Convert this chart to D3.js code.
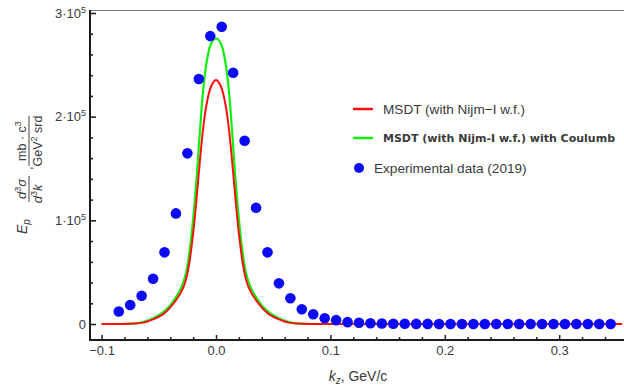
<!DOCTYPE html>
<html>
<head>
<meta charset="utf-8">
<script src="https://cdn.jsdelivr.net/npm/d3@7"></script>
<style>
  body { margin: 0; background: #fff; }
  svg { display: block; }
  text { font-family: "Liberation Sans", Arial, sans-serif; fill: #3a3a3a; }
</style>
</head>
<body>
<svg id="chart" width="624" height="387"></svg>
<script>
// experimental points (kz in GeV/c, cross section)
const kExp = [-0.085, -0.075, -0.065, -0.055, -0.045, -0.035, -0.025, -0.015, -0.005, 0.005,
  0.015, 0.025, 0.035, 0.045, 0.055, 0.065, 0.075, 0.085, 0.095, 0.105,
  0.115, 0.125, 0.135, 0.145, 0.155, 0.165, 0.175, 0.185, 0.195, 0.205,
  0.215, 0.225, 0.235, 0.245, 0.255, 0.265, 0.275, 0.285, 0.295, 0.305,
  0.315, 0.325, 0.335, 0.345];
const sigmaExp = [12000, 18300, 27300, 43700, 69100, 106700, 164600, 236300, 277700, 286700,
  242300, 176800, 112200, 69100, 39200, 24800, 14300, 9400, 5500, 3700,
  1800, 1200, 700, 500, 300, 200, 100, 100, 0, 0,
  0, 0, 0, 0, 0, 0, 0, 0, 0, 0,
  0, 0, 0, 0];

// theory curves, sampled on the same kz grid
const kCurve = [-0.1, -0.09, -0.08, -0.07, -0.065, -0.06, -0.055, -0.05, -0.045, -0.04,
  -0.035, -0.03, -0.027, -0.025, -0.023, -0.021, -0.019, -0.017, -0.015, -0.013,
  -0.011, -0.009, -0.007, -0.005, -0.003, 0,
  0.003, 0.005, 0.007, 0.009, 0.011, 0.013, 0.015, 0.017, 0.019, 0.021,
  0.023, 0.025, 0.027, 0.03, 0.035, 0.04, 0.045, 0.05, 0.055, 0.06,
  0.065, 0.07, 0.08, 0.09, 0.1, 0.15, 0.2, 0.25, 0.3, 0.355];
const msdt = [0, 0, 60, 500, 1100, 2400, 4500, 7000, 10500, 16000,
  23000, 32000, 40000, 49000, 61000, 78000, 97000, 121000, 146000, 170000,
  191000, 207000, 219000, 227000, 232000, 235300,
  232000, 227000, 219000, 207000, 191000, 170000, 146000, 121000, 97000, 78000,
  61000, 49000, 40000, 32000, 23000, 16000, 10500, 7000, 4500, 2400,
  1100, 500, 60, 0, 0, 0, 0, 0, 0, 0];
const msdtCoulomb = [0, 0, 150, 700, 1500, 3000, 5500, 8500, 12500, 18000,
  26000, 36000, 46000, 56000, 71000, 90000, 113000, 140000, 171000, 202000,
  228000, 247000, 260000, 268500, 273000, 275500,
  273000, 268500, 260000, 247000, 228000, 202000, 171000, 140000, 113000, 90000,
  71000, 56000, 46000, 36000, 26000, 18000, 12500, 8500, 5500, 3000,
  1500, 700, 150, 0, 0, 0, 0, 0, 0, 0];

const xTicks = [-0.1, 0, 0.1, 0.2, 0.3];
const xTickLabels = ['\u22120.1', '0.0', '0.1', '0.2', '0.3'];
const yTicks = [0, 1e5, 2e5, 3e5];
const yTickLabels = [['0', null], ['1\u00b710', '5'], ['2\u00b710', '5'], ['3\u00b710', '5']];

const legendItems = [
  { label: 'MSDT (with Nijm\u2212I w.f.)', color: '#ff1010', type: 'line', bold: false },
  { label: 'MSDT (with Nijm-I w.f.) with Coulumb', color: '#10f010', type: 'line', bold: true },
  { label: 'Experimental data (2019)', color: '#0a0af5', type: 'dot', bold: false }
];

const MARGINS = { top: 10, bottom: 47, left: 90, right: 0 };
const svg = d3.select('#chart');
const width = +svg.attr('width');
const height = +svg.attr('height');
const plotBottom = height - MARGINS.bottom;

const x = d3.scaleLinear().domain([-0.11014, 0.35664]).range([MARGINS.left, width - MARGINS.right]);
const y = d3.scaleLinear().domain([-15430, 302900]).range([plotBottom, MARGINS.top]);

// frame: top thin line, left and bottom axes
svg.append('line')
  .attr('x1', MARGINS.left).attr('x2', width)
  .attr('y1', MARGINS.top + 0.5).attr('y2', MARGINS.top + 0.5)
  .attr('stroke', '#777').attr('stroke-width', 1);

// minor ticks
const xMinor = d3.range(-0.1, 0.341, 0.02).map(v => +v.toFixed(2))
  .filter(v => !xTicks.some(t => Math.abs(t - v) < 1e-9));
const yMinor = d3.range(0, 300001, 20000).filter(v => v % 100000 !== 0);

const gx = svg.append('g').attr('transform', `translate(0,${plotBottom})`);
gx.append('g').call(d3.axisBottom(x).tickValues(xMinor).tickSize(-3).tickSizeOuter(0).tickFormat(''));
gx.append('g').call(d3.axisBottom(x).tickValues(xTicks).tickSize(-5).tickSizeOuter(0).tickPadding(6)
  .tickFormat((d, i) => xTickLabels[i]));
gx.selectAll('.domain').remove();
gx.selectAll('line').attr('stroke', '#222').attr('stroke-width', 1.5);
gx.selectAll('text').attr('font-size', 13).attr('fill', '#3a3a3a')
  .style('font-family', '"Liberation Sans", Arial, sans-serif');

const gy = svg.append('g').attr('transform', `translate(${MARGINS.left},0)`);
gy.append('g').call(d3.axisLeft(y).tickValues(yMinor).tickSize(-3).tickSizeOuter(0).tickFormat(''));
const gyMajor = gy.append('g').call(d3.axisLeft(y).tickValues(yTicks).tickSize(-6).tickSizeOuter(0).tickPadding(4)
  .tickFormat(''));
gy.selectAll('.domain').remove();
gy.selectAll('line').attr('stroke', '#222').attr('stroke-width', 1.6);
gyMajor.selectAll('.tick text').each(function (d, i) {
  const t = d3.select(this)
    .attr('font-size', 13).attr('fill', '#3a3a3a')
    .style('font-family', '"Liberation Sans", Arial, sans-serif');
  const [base, sup] = yTickLabels[i];
  t.append('tspan').text(base);
  if (sup) t.append('tspan').attr('font-size', 9).attr('dy', '-0.55em').text(sup);
});

svg.append('line')
  .attr('x1', MARGINS.left).attr('x2', MARGINS.left)
  .attr('y1', MARGINS.top).attr('y2', plotBottom + 1)
  .attr('stroke', '#1a1a1a').attr('stroke-width', 2);
svg.append('line')
  .attr('x1', MARGINS.left - 1).attr('x2', width)
  .attr('y1', plotBottom).attr('y2', plotBottom)
  .attr('stroke', '#1a1a1a').attr('stroke-width', 2);

// curves
const line = d3.line().x(d => x(d[0])).y(d => y(d[1])).curve(d3.curveMonotoneX);
svg.append('path')
  .datum(kCurve.map((k, i) => [k, msdtCoulomb[i]]))
  .attr('d', line).attr('fill', 'none')
  .attr('stroke', legendItems[1].color).attr('stroke-width', 2.2);
svg.append('path')
  .datum(kCurve.map((k, i) => [k, msdt[i]]))
  .attr('d', line).attr('fill', 'none')
  .attr('stroke', legendItems[0].color).attr('stroke-width', 2);

// experimental points
svg.append('g').selectAll('circle')
  .data(kExp.map((k, i) => [k, sigmaExp[i]]))
  .join('circle')
  .attr('cx', d => x(d[0]))
  .attr('cy', d => y(d[1]))
  .attr('r', 5.3)
  .attr('fill', legendItems[2].color);

// legend
const legend = svg.append('g');
const legendY = [109, 138, 168];
legendItems.forEach((item, i) => {
  const g = legend.append('g').attr('transform', `translate(0,${legendY[i]})`);
  if (item.type === 'line') {
    g.append('line').attr('x1', 353).attr('x2', 373).attr('y1', 0).attr('y2', 0)
      .attr('stroke', item.color).attr('stroke-width', 2.5);
  } else {
    g.append('circle').attr('cx', 359).attr('cy', 0).attr('r', 5).attr('fill', item.color);
  }
  const t = g.append('text')
    .attr('x', item.type === 'line' ? 383 : 374)
    .attr('y', 0).attr('dy', '0.36em')
    .text(item.label);
  if (item.bold) {
    t.attr('font-size', 11).attr('font-weight', 'bold').attr('fill', '#151515')
      .style('font-family', '"DejaVu Sans", Verdana, sans-serif');
  } else {
    t.attr('font-size', 13.6).attr('fill', '#333');
  }
});

// x axis title
const xt = svg.append('text')
  .attr('x', 358).attr('y', 381)
  .attr('text-anchor', 'middle').attr('font-size', 14).attr('fill', '#333');
xt.append('tspan').attr('font-style', 'italic').text('k');
xt.append('tspan').attr('font-size', 10).attr('font-style', 'italic').attr('dy', 3).text('z');
xt.append('tspan').attr('dy', -3).text(', GeV/c');

// y axis title (rotated)
const yt = svg.append('g').attr('transform', 'translate(0,234) rotate(-90)');
const ep = yt.append('text').attr('x', 0).attr('y', 27).attr('font-size', 14).attr('fill', '#333');
ep.append('tspan').attr('font-style', 'italic').text('E');
ep.append('tspan').attr('font-style', 'italic').attr('font-size', 10).attr('dy', 3).text('p');

const num1 = yt.append('text').attr('x', 45).attr('y', 26).attr('text-anchor', 'middle')
  .attr('font-size', 13).attr('fill', '#333');
num1.append('tspan').attr('font-style', 'italic').text('d');
num1.append('tspan').attr('font-size', 9).attr('dy', -5).text('3');
num1.append('tspan').attr('font-style', 'italic').attr('dy', 5).text('\u03c3');
yt.append('line').attr('x1', 32).attr('x2', 58).attr('y1', 29).attr('y2', 29)
  .attr('stroke', '#444').attr('stroke-width', 1);
const den1 = yt.append('text').attr('x', 45).attr('y', 42).attr('text-anchor', 'middle')
  .attr('font-size', 13).attr('fill', '#333');
den1.append('tspan').attr('font-style', 'italic').text('d');
den1.append('tspan').attr('font-size', 9).attr('dy', -5).text('3');
den1.append('tspan').attr('font-style', 'italic').attr('dy', 5).text('k\u20d7');

yt.append('text').attr('x', 64).attr('y', 32).attr('font-size', 13).attr('fill', '#333').text(',');

const num2 = yt.append('text').attr('x', 93).attr('y', 26).attr('text-anchor', 'middle')
  .attr('font-size', 12.5).attr('fill', '#333');
num2.append('tspan').text('mb \u00b7 c');
num2.append('tspan').attr('font-size', 9).attr('dy', -5).text('3');
yt.append('line').attr('x1', 68).attr('x2', 118).attr('y1', 29).attr('y2', 29)
  .attr('stroke', '#444').attr('stroke-width', 1);
const den2 = yt.append('text').attr('x', 93).attr('y', 42).attr('text-anchor', 'middle')
  .attr('font-size', 12.5).attr('fill', '#333');
den2.append('tspan').text('GeV');
den2.append('tspan').attr('font-size', 9).attr('dy', -5).text('2');
den2.append('tspan').attr('dy', 5).text(' srd');
</script>
</body>
</html>
